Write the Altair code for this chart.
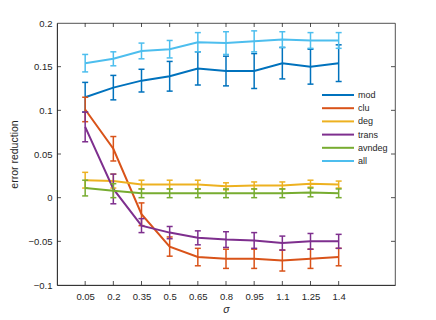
import altair as alt
import pandas as pd

sigma = [0.05, 0.2, 0.35, 0.5, 0.65, 0.8, 0.95, 1.1, 1.25, 1.4]
series = ["mod", "clu", "deg", "trans", "avndeg", "all"]
colors = ["#0072BD", "#D95319", "#EDB120", "#7E2F8E", "#77AC30", "#4DBEEE"]

mod_mean = [0.115, 0.126, 0.134, 0.139, 0.148, 0.145, 0.145, 0.154, 0.150, 0.154]
mod_err = [0.017, 0.014, 0.013, 0.017, 0.019, 0.017, 0.020, 0.018, 0.020, 0.021]
clu_mean = [0.101, 0.056, -0.019, -0.056, -0.068, -0.070, -0.070, -0.072, -0.070, -0.068]
clu_err = [0.014, 0.014, 0.013, 0.011, 0.010, 0.011, 0.011, 0.012, 0.011, 0.010]
deg_mean = [0.020, 0.019, 0.015, 0.015, 0.015, 0.013, 0.014, 0.014, 0.016, 0.015]
deg_err = [0.009, 0.008, 0.005, 0.005, 0.005, 0.004, 0.004, 0.004, 0.004, 0.004]
trans_mean = [0.081, 0.010, -0.032, -0.040, -0.046, -0.048, -0.049, -0.052, -0.050, -0.050]
trans_err = [0.017, 0.017, 0.008, 0.007, 0.008, 0.009, 0.009, 0.008, 0.009, 0.008]
avndeg_mean = [0.011, 0.008, 0.005, 0.005, 0.005, 0.005, 0.005, 0.005, 0.006, 0.005]
avndeg_err = [0.009, 0.008, 0.005, 0.005, 0.005, 0.005, 0.005, 0.005, 0.005, 0.005]
all_mean = [0.154, 0.159, 0.168, 0.170, 0.178, 0.177, 0.179, 0.181, 0.180, 0.180]
all_err = [0.010, 0.008, 0.009, 0.010, 0.011, 0.013, 0.012, 0.009, 0.009, 0.009]

y_ticks = [-0.1, -0.05, 0, 0.05, 0.1, 0.15, 0.2]

means = [mod_mean, clu_mean, deg_mean, trans_mean, avndeg_mean, all_mean]
errs = [mod_err, clu_err, deg_err, trans_err, avndeg_err, all_err]

rows = []
for s, m, e in zip(series, means, errs):
    for x, v, d in zip(sigma, m, e):
        rows.append({"sigma": x, "series": s, "mean": v, "lo": v - d, "hi": v + d})
df = pd.DataFrame(rows)

W, H = 338, 262
xscale = alt.Scale(domain=[-0.1, 1.7], nice=False, zero=False)
yscale = alt.Scale(domain=[-0.1, 0.2], nice=False, zero=False)
cscale = alt.Scale(domain=series, range=colors)

xaxis = alt.Axis(values=sigma, labelExpr="format(datum.value, '~g')",
                 title="σ", ticks=False, grid=False, labelPadding=6,
                 labelOverlap=False, labelFlush=False,
                 titlePadding=4, titleFontStyle="italic", titleFontWeight="normal")
yaxis = alt.Axis(values=y_ticks, labelExpr="format(datum.value, '~g')",
                 title="error reduction", ticks=False, grid=False, labelPadding=5,
                 labelOverlap=False, labelFlush=False,
                 titlePadding=8, titleFontWeight="normal")
xenc = alt.X("sigma:Q", scale=xscale, axis=xaxis)

base = alt.Chart(df)
layers = []
for s in series:
    sub = base.transform_filter(alt.datum.series == s)
    col = alt.Color("series:N", scale=cscale,
                    legend=alt.Legend(title=None, orient="none", legendX=275, legendY=66,
                                      symbolType="M-3.2,0H3.2", symbolSize=100,
                                      symbolStrokeWidth=2, labelOffset=14, rowPadding=2.2,
                                      labelFontSize=9, padding=0))
    line = sub.mark_line(strokeWidth=2).encode(
        x=xenc, y=alt.Y("mean:Q", scale=yscale, axis=yaxis), color=col)
    bar = sub.mark_rule(strokeWidth=1.5).encode(
        x=xenc, y=alt.Y("lo:Q", scale=yscale, axis=yaxis), y2="hi:Q", color=col)
    cap_lo = sub.mark_tick(orient="horizontal", size=6, thickness=1.5, opacity=1).encode(
        x=xenc, y=alt.Y("lo:Q", scale=yscale, axis=yaxis), color=col)
    cap_hi = sub.mark_tick(orient="horizontal", size=6, thickness=1.5, opacity=1).encode(
        x=xenc, y=alt.Y("hi:Q", scale=yscale, axis=yaxis), color=col)
    layers += [line, bar, cap_lo, cap_hi]

xt = pd.DataFrame({"sigma": sigma})
yt = pd.DataFrame({"mean": y_ticks[1:-1]})
tick_color = "#262626"
ticks = [
    alt.Chart(xt).mark_rule(color=tick_color, strokeWidth=0.8).encode(
        x=xenc, y=alt.value(H), y2=alt.value(H - 4)),
    alt.Chart(xt).mark_rule(color=tick_color, strokeWidth=0.8).encode(
        x=xenc, y=alt.value(0), y2=alt.value(4)),
    alt.Chart(yt).mark_rule(color=tick_color, strokeWidth=0.8).encode(
        y=alt.Y("mean:Q", scale=yscale, axis=yaxis), x=alt.value(0), x2=alt.value(4)),
    alt.Chart(yt).mark_rule(color=tick_color, strokeWidth=0.8).encode(
        y=alt.Y("mean:Q", scale=yscale, axis=yaxis), x=alt.value(W - 4), x2=alt.value(W)),
]

chart = alt.layer(*layers, *ticks).properties(
    width=W, height=H,
    autosize=alt.AutoSizeParams(type="none"),
    padding={"left": 49, "top": 15, "right": 30, "bottom": 30},
).configure_view(
    stroke="#262626", strokeWidth=0.8
).configure_axis(
    domainColor="#262626", domainWidth=0.8, labelFont="Liberation Sans",
    labelFontSize=9.5, labelColor="#262626", titleFont="Liberation Sans",
    titleFontSize=10.5, titleColor="#262626", labelOverlap=False
).configure_legend(
    labelFont="Liberation Sans", labelColor="#262626"
)

chart.save("out.html", embed_options={"renderer": "svg", "actions": False})
